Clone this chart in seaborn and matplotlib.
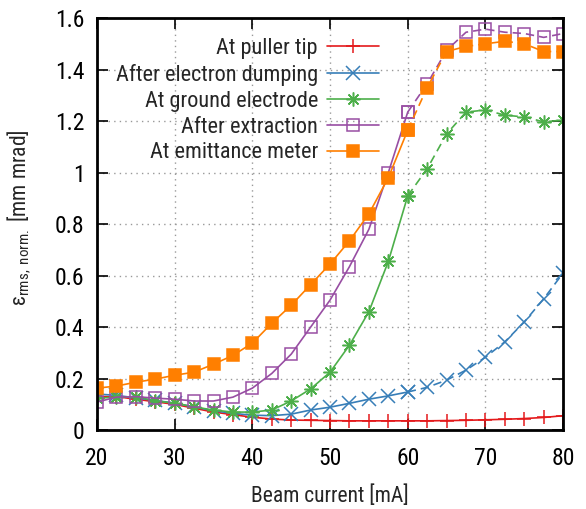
import numpy as np
import pandas as pd
import matplotlib
matplotlib.use("Agg")
import matplotlib.pyplot as plt
import seaborn as sns
from matplotlib import font_manager

sns.set_theme(style="ticks")

names = {f.name for f in font_manager.fontManager.ttflist}
family = next((f for f in ["Liberation Sans Narrow", "Roboto Condensed",
                           "Open Sans Condensed", "Roboto"] if f in names), "DejaVu Sans")
plt.rcParams["font.family"] = [family, "DejaVu Sans"]
plt.rcParams["mathtext.fontset"] = "custom"
plt.rcParams["mathtext.rm"] = family
plt.rcParams["mathtext.it"] = family + ":italic"

# Beam current [mA]
current = [20, 22.5, 25, 27.5, 30, 32.5, 35, 37.5, 40, 42.5, 45, 47.5, 50,
           52.5, 55, 57.5, 60, 62.5, 65, 67.5, 70, 72.5, 75, 77.5, 80]

# Normalised rms emittance [mm mrad]
puller_tip = [0.13, 0.13, 0.12, 0.11, 0.10, 0.085, 0.07, 0.06, 0.05, 0.043, 0.039,
              0.038, 0.037, 0.036, 0.036, 0.036, 0.036, 0.036, 0.037, 0.038, 0.040,
              0.042, 0.045, 0.049, 0.056]
electron_dumping = [0.14, 0.135, 0.125, 0.115, 0.105, 0.09, 0.075, 0.065, 0.058, 0.056,
                    0.062, 0.078, 0.089, 0.104, 0.12, 0.133, 0.148, 0.166, 0.194, 0.233,
                    0.283, 0.343, 0.42, 0.51, 0.61]
ground_electrode = [0.124, 0.128, 0.13, 0.113, 0.105, 0.09, 0.078, 0.07, 0.07, 0.078,
                    0.113, 0.16, 0.225, 0.33, 0.46, 0.655, 0.91, 1.015, 1.15, 1.235,
                    1.243, 1.223, 1.216, 1.197, 1.204]
after_extraction = [0.109, 0.128, 0.13, 0.124, 0.12, 0.113, 0.113, 0.128, 0.163, 0.22,
                    0.295, 0.40, 0.505, 0.635, 0.78, 1.0, 1.235, 1.345, 1.475, 1.545,
                    1.557, 1.545, 1.54, 1.525, 1.54]
emittance_meter = [0.163, 0.171, 0.186, 0.198, 0.213, 0.225, 0.256, 0.29, 0.338, 0.415,
                   0.485, 0.565, 0.645, 0.735, 0.84, 0.98, 1.165, 1.33, 1.47, 1.49,
                   1.50, 1.51, 1.50, 1.47, 1.47]

labels = ["At puller tip", "After electron dumping", "At ground electrode",
          "After extraction", "At emittance meter"]
series = [puller_tip, electron_dumping, ground_electrode, after_extraction, emittance_meter]
colors = ["#e41a1c", "#377eb8", "#4daf4a", "#984ea3", "#ff7f00"]
markers = ["+", "x", (8, 2, 0), "s", "s"]
dashed_tail = [False, True, True, True, True]

fs = 16

fig = plt.figure(figsize=(5.86, 5.09), dpi=100)
ax = fig.add_axes([0.1655, 0.155, 0.7955, 0.8095])

split = 60
handles = []
for lab, vals, col, mk, dash in zip(labels, series, colors, markers, dashed_tail):
    df = pd.DataFrame({"x": current, "y": vals})
    filled = lab == "At emittance meter"
    style = dict(color=col, marker=mk, markersize=8 if mk == "s" else 10,
                 markeredgewidth=1.1, linewidth=1.2,
                 markerfacecolor=col if filled else "none", markeredgecolor=col)
    if dash:
        head = df[df.x <= split]
        tail = df[df.x >= split]
        sns.lineplot(data=head, x="x", y="y", ax=ax, estimator=None, sort=False, **style)
        sns.lineplot(data=tail, x="x", y="y", ax=ax, estimator=None, sort=False,
                     dashes=False, linestyle=(0, (5, 3)), **style)
    else:
        sns.lineplot(data=df, x="x", y="y", ax=ax, estimator=None, sort=False, **style)
    handles.append(matplotlib.lines.Line2D([], [], **style))

ax.set_xlim(20, 80)
ax.set_ylim(0, 1.6)
ax.set_xticks([20, 30, 40, 50, 60, 70, 80])
ax.set_yticks([0, 0.2, 0.4, 0.6, 0.8, 1.0, 1.2, 1.4, 1.6])
ax.set_yticklabels(["0", "0.2", "0.4", "0.6", "0.8", "1", "1.2", "1.4", "1.6"])
ax.grid(True, color="#999999", linestyle=(0, (1, 3)), linewidth=1.0)
ax.tick_params(direction="in", length=8, width=1.2, top=True, right=True,
               labelsize=17, colors="black")
ax.tick_params(axis="x", labeltop=False, pad=12.5)
ax.tick_params(axis="y", labelright=False, pad=9)
for sp in ax.spines.values():
    sp.set_linewidth(2.0)
    sp.set_color("black")

ax.set_xlabel("Beam current [mA]", fontsize=15.5, labelpad=11)
ax.set_ylabel(r"ε$_{\mathrm{rms,\ norm.}}$ [mm mrad]", fontsize=15.5)
ax.yaxis.set_label_coords(-0.137, 0.515)

leg = ax.legend(handles, labels, loc="upper right", bbox_to_anchor=(0.605, 0.952),
                markerfirst=False, frameon=False, fontsize=fs, handlelength=2.35,
                handletextpad=0.4, labelspacing=0.22, borderaxespad=0.0, borderpad=0.0)
col_box = leg._legend_box._children[-1]._children[0]
col_box.align = "right"

fig.savefig("out.png", dpi=100)
